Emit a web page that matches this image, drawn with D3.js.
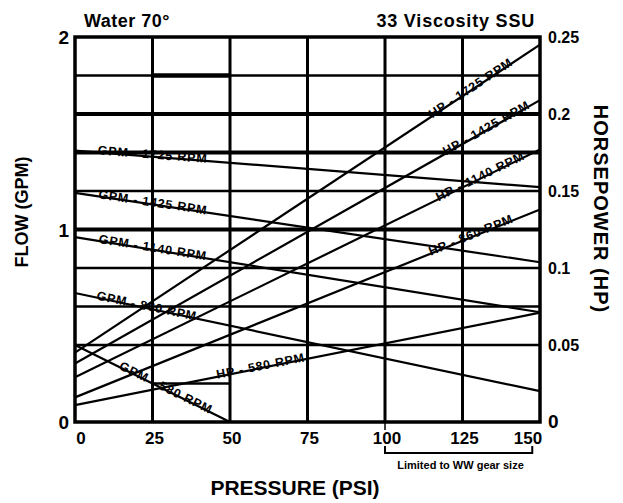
<!DOCTYPE html>
<html>
<head>
<meta charset="utf-8">
<script src="https://cdn.jsdelivr.net/npm/d3@7"></script>
<style>
  body { margin: 0; background: #fff; }
  text { font-family: "Liberation Sans", Arial, sans-serif; fill: #000; }
</style>
</head>
<body>
<div id="chart"></div>
<script>
// tick values
const pressureTicks = [0, 25, 50, 75, 100, 125, 150];
const flowTicks = [0, 1, 2];
const hpTicks = [0, 0.05, 0.1, 0.15, 0.2, 0.25];
const flowGrid = [0.2, 0.4, 0.6, 0.8, 1.0, 1.2, 1.4, 1.6, 1.8];

// pump speeds
const rpms = ["1725", "1425", "1140", "860", "580"];

// flow lines (psi, gpm)
const flowPsi = [[0, 150], [0, 150], [0, 150], [0, 150], [0, 50]];
const flowGpm = [[1.41, 1.22], [1.19, 0.83], [0.96, 0.57], [0.67, 0.16], [0.40, 0.0]];

// horsepower lines (psi, hp)
const hpPsi = [[0, 150], [0, 150], [0, 150], [0, 150], [0, 150]];
const hpValues = [[0.045, 0.245], [0.038, 0.209], [0.029, 0.177], [0.016, 0.138], [0.011, 0.071]];

const W = 623, H = 503;
const margin = { top: 37, right: 83, bottom: 81, left: 75 };
const width = W - margin.left - margin.right,
    height = H - margin.top - margin.bottom;

const svg = d3.select("#chart").append("svg")
    .attr("width", W).attr("height", H);
const g = svg.append("g")
    .attr("transform", `translate(${margin.left},${margin.top})`);

const x = d3.scaleLinear().domain([0, 150]).range([0, width]);
const y = d3.scaleLinear().domain([0, 2]).range([height, 0]);
const yHp = d3.scaleLinear().domain([0, 0.25]).range([height, 0]);

// grid - horizontal
const thick = [1.0, 1.4, 1.6];
flowGrid.forEach(v => {
    const partial = Math.abs(v - 0.2) < 1e-6;
    g.append("line")
        .attr("x1", partial ? x(25) : 0)
        .attr("x2", partial ? x(50) : width)
        .attr("y1", y(v)).attr("y2", y(v))
        .attr("stroke", "#000")
        .attr("stroke-width", thick.some(t => Math.abs(t - v) < 1e-6) ? 4 : 2.5);
});
// heavier piece on the 1.8 line
g.append("line")
    .attr("x1", x(25)).attr("x2", x(50))
    .attr("y1", y(1.8)).attr("y2", y(1.8))
    .attr("stroke", "#000").attr("stroke-width", 4.5);

// grid - vertical
pressureTicks.slice(1, -1).forEach(p => {
    g.append("line")
        .attr("x1", x(p)).attr("x2", x(p))
        .attr("y1", 0).attr("y2", height)
        .attr("stroke", "#000").attr("stroke-width", 3);
});

// frame
g.append("rect")
    .attr("width", width).attr("height", height)
    .attr("fill", "none").attr("stroke", "#000").attr("stroke-width", 3.5);

// curves
const line = d3.line();
function drawSeries(psis, vals, scale, prefix, labelAt) {
    psis.forEach((ps, i) => {
        const pts = ps.map((p, j) => [x(p), scale(vals[i][j])]);
        g.append("path")
            .attr("d", line(pts))
            .attr("fill", "none")
            .attr("stroke", "#000")
            .attr("stroke-width", 2.2);
        // label along the line
        const p = labelAt[i];
        const t = (p - ps[0]) / (ps[1] - ps[0]);
        const v = vals[i][0] + t * (vals[i][1] - vals[i][0]);
        const ang = Math.atan2(pts[1][1] - pts[0][1], pts[1][0] - pts[0][0]) * 180 / Math.PI;
        g.append("text")
            .attr("transform", `translate(${x(p)},${scale(v)}) rotate(${ang})`)
            .attr("text-anchor", "middle")
            .attr("dy", "2")
            .style("font-size", "12.5px")
            .style("font-weight", "bold")
            .style("letter-spacing", "0.8px")
            .text(`${prefix} - ${rpms[i]} RPM`);
    });
}
drawSeries(flowPsi, flowGpm, y, "GPM", [25, 25, 25, 23, 29]);
drawSeries(hpPsi, hpValues, yHp, "HP", [128, 133, 131, 128, 60]);

// left ticks
flowTicks.forEach(v => {
    g.append("text")
        .attr("x", -6).attr("y", y(v) + 7)
        .attr("text-anchor", "end")
        .style("font-size", "19px").style("font-weight", "bold")
        .text(v);
});
// right ticks
hpTicks.forEach(v => {
    g.append("text")
        .attr("x", width + 8).attr("y", yHp(v) + 6)
        .style("font-size", v === 0 ? "19px" : "16px").style("font-weight", "bold")
        .text(v);
});
// bottom ticks
pressureTicks.forEach(p => {
    const shift = p === 0 ? 6 : (p === 150 ? -12 : 2);
    g.append("text")
        .attr("x", x(p) + shift).attr("y", height + 22)
        .attr("text-anchor", "middle")
        .style("font-size", "17px").style("font-weight", "bold")
        .text(p);
});
// small tick under 100
g.append("line")
    .attr("x1", x(100)).attr("x2", x(100))
    .attr("y1", height).attr("y2", height + 8)
    .attr("stroke", "#000").attr("stroke-width", 1.5);

// headings
svg.append("text")
    .attr("x", 84).attr("y", 27)
    .style("font-size", "18px").style("font-weight", "bold").style("letter-spacing", "0.5px")
    .text("Water 70°");
svg.append("text")
    .attr("x", 535).attr("y", 27)
    .attr("text-anchor", "end")
    .style("font-size", "18px").style("font-weight", "bold").style("letter-spacing", "0.8px")
    .text("33 Viscosity SSU");

// axis titles
svg.append("text")
    .attr("transform", `translate(28,212) rotate(-90)`)
    .attr("text-anchor", "middle")
    .style("font-size", "18px").style("font-weight", "bold")
    .text("FLOW (GPM)");
svg.append("text")
    .attr("transform", `translate(594,209) rotate(90)`)
    .attr("text-anchor", "middle")
    .style("font-size", "20px").style("font-weight", "bold").style("letter-spacing", "1px")
    .text("HORSEPOWER (HP)");
svg.append("text")
    .attr("x", 295).attr("y", 495)
    .attr("text-anchor", "middle")
    .style("font-size", "21px").style("font-weight", "bold")
    .text("PRESSURE (PSI)");

// limited-range bracket
const by = height + 31;
g.append("path")
    .attr("d", `M${x(100)},${by - 7}V${by}H${x(147.5)}V${by - 7}`)
    .attr("fill", "none").attr("stroke", "#000").attr("stroke-width", 2);
g.append("text")
    .attr("x", (x(100) + x(150)) / 2 - 2).attr("y", by + 16)
    .attr("text-anchor", "middle")
    .style("font-size", "11px").style("font-weight", "bold")
    .text("Limited to WW gear size");
</script>
</body>
</html>
